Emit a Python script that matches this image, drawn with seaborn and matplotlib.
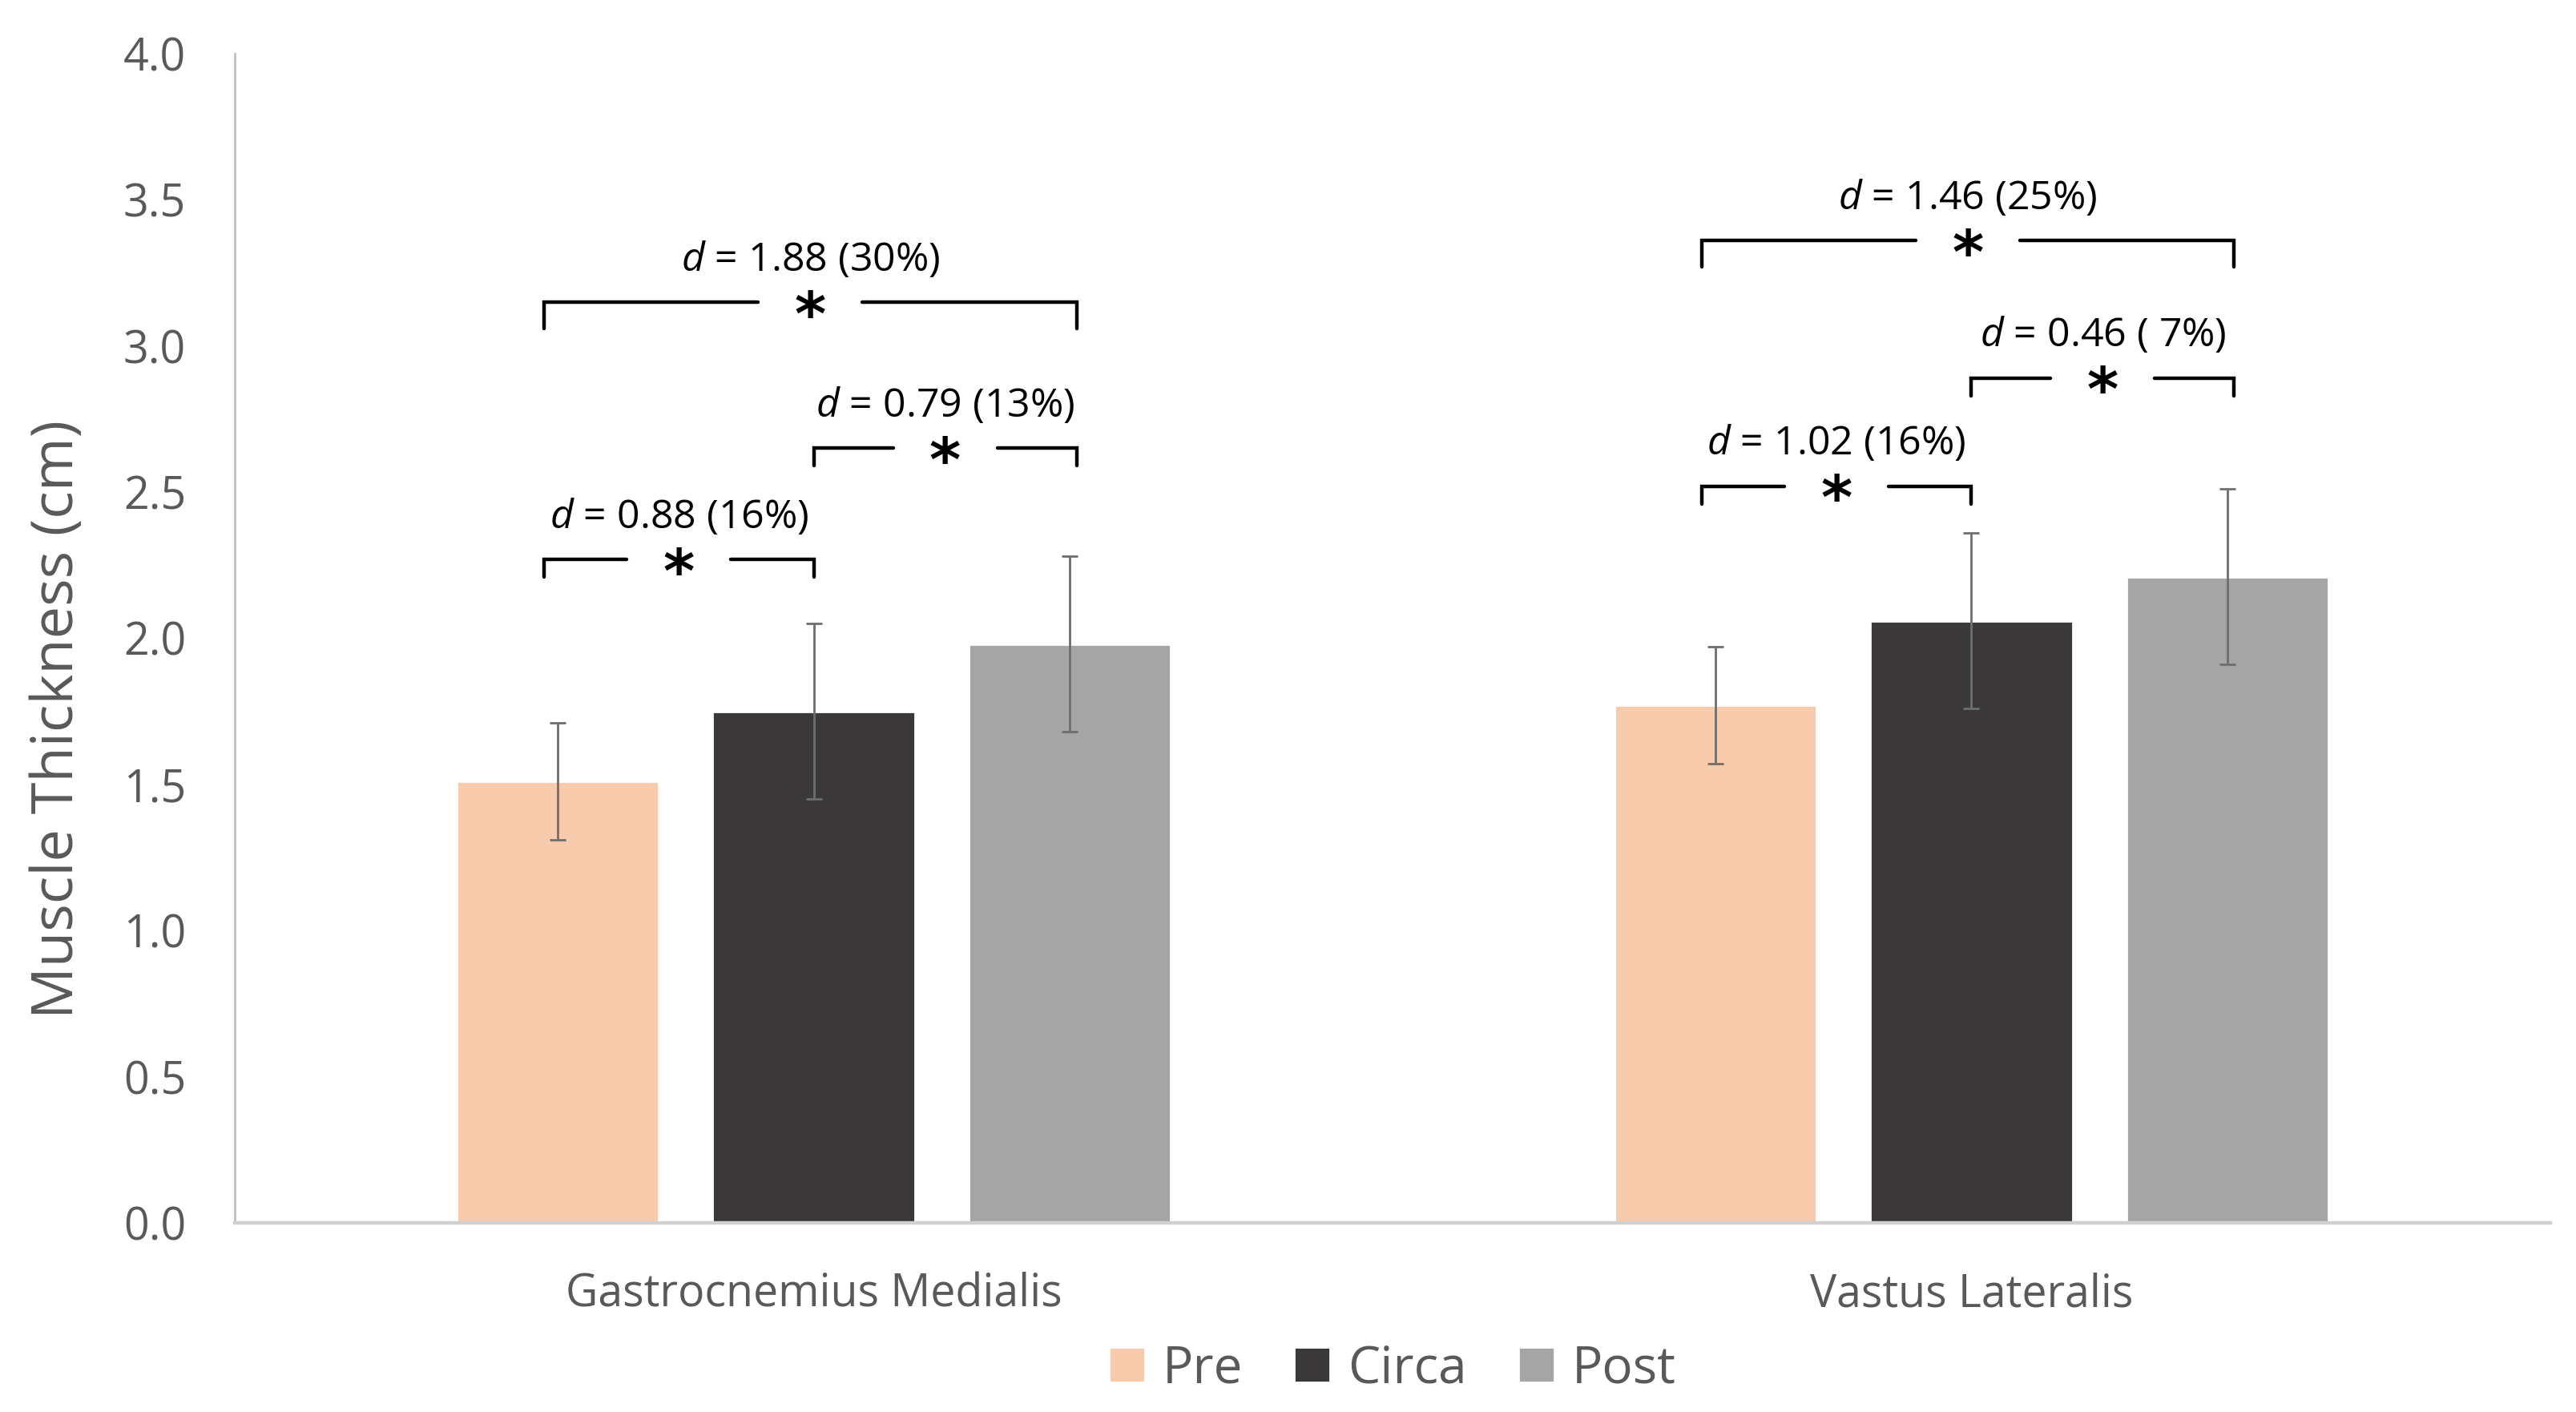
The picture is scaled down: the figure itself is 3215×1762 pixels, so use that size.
import matplotlib
matplotlib.use("Agg")
import matplotlib.pyplot as plt
import pandas as pd
import seaborn as sns

muscles = ["Gastrocnemius Medialis", "Vastus Lateralis"]
timepoints = ["Pre", "Circa", "Post"]
mean_gm = [1.51, 1.75, 1.98]
sd_gm = [0.20, 0.30, 0.30]
mean_vl = [1.77, 2.06, 2.21]
sd_vl = [0.20, 0.30, 0.30]

# pairwise comparisons (effect size d and % change)
cmp_muscle = ["Gastrocnemius Medialis"] * 3 + ["Vastus Lateralis"] * 3
cmp_a = ["Pre", "Circa", "Pre", "Pre", "Circa", "Pre"]
cmp_b = ["Circa", "Post", "Post", "Circa", "Post", "Post"]
cmp_y = [2.27, 2.65, 3.15, 2.52, 2.89, 3.36]
cmp_d = ["0.88", "0.79", "1.88", "1.02", "0.46", "1.46"]
cmp_pct = ["16%", "13%", "30%", "16%", " 7%", "25%"]

palette = {"Pre": "#F8CBAD", "Circa": "#3A3838", "Post": "#A5A5A5"}
# small horizontal nudge of the bracket ends
end_shift = {"Pre": -0.012, "Circa": 0.0, "Post": 0.006}

df = pd.DataFrame({
    "muscle": [muscles[0]] * 3 + [muscles[1]] * 3,
    "time": timepoints * 2,
    "mean": mean_gm + mean_vl,
    "sd": sd_gm + sd_vl,
})

sns.set_style("white")
plt.rcParams["font.family"] = ["Open Sans", "DejaVu Sans"]
plt.rcParams["mathtext.fontset"] = "custom"
plt.rcParams["mathtext.it"] = "Open Sans:italic"
plt.rcParams["mathtext.rm"] = "Open Sans"

fig = plt.figure(figsize=(16.075, 8.81), dpi=200)
ax = fig.add_axes([0.0912, 0.134, 0.8988, 0.828])

sns.barplot(data=df, x="muscle", y="mean", hue="time", order=muscles,
            hue_order=timepoints, palette=palette, width=0.663, gap=0.21,
            errorbar=None, saturation=1, ax=ax)

# bar centres from the drawn patches
centers = {}
for tp, cont in zip(timepoints, ax.containers):
    for m, p in zip(muscles, cont.patches):
        centers[(m, tp)] = p.get_x() + p.get_width() / 2

for _, row in df.iterrows():
    ax.errorbar(centers[(row["muscle"], row["time"])], row["mean"], yerr=row["sd"],
                fmt="none", ecolor="#6E6E6E", elinewidth=1.0, capsize=3.6,
                capthick=1.0, zorder=3)

gap = 0.045
for m, a, b, y, d, pct in zip(cmp_muscle, cmp_a, cmp_b, cmp_y, cmp_d, cmp_pct):
    x1 = centers[(m, a)] + end_shift[a]
    x2 = centers[(m, b)] + end_shift[b]
    leg = 0.09 if (a == "Pre" and b == "Post") else 0.06
    xm = (x1 + x2) / 2
    ax.plot([x1, x1, xm - gap], [y - leg, y, y], color="black", lw=1.6,
            solid_joinstyle="miter", zorder=4)
    ax.plot([xm + gap, x2, x2], [y, y, y - leg], color="black", lw=1.6,
            solid_joinstyle="miter", zorder=4)
    ax.text(xm, y - 0.055, "*", ha="center", va="center", fontsize=27,
            fontweight="bold", family="DejaVu Sans", color="black")
    ax.text(xm, y + 0.075, f"$d$ = {d} ({pct})", ha="center", va="bottom",
            fontsize=18, color="black")

ax.set_xlim(-0.5, 1.5)
ax.set_ylim(0, 4.0)
ax.set_yticks([i * 0.5 for i in range(9)])
ax.set_yticklabels([f"{i * 0.5:.1f}" for i in range(9)])
ax.set_xlabel("")
ax.set_ylabel("Muscle Thickness (cm)", fontsize=26, color="#595959")
ax.yaxis.set_label_coords(-0.064, 0.431)
ax.tick_params(axis="both", length=0, labelsize=20, labelcolor="#595959")
ax.tick_params(axis="y", pad=22)
ax.tick_params(axis="x", pad=22)

for s in ["top", "right"]:
    ax.spines[s].set_visible(False)
ax.spines["left"].set_color("#BFBFBF")
ax.spines["left"].set_linewidth(1.0)
ax.spines["bottom"].set_color("#D0D0D0")
ax.spines["bottom"].set_linewidth(1.6)

handles, labels = ax.get_legend_handles_labels()
ax.legend(handles, labels, loc="center", bbox_to_anchor=(0.5, -0.125), ncol=3,
          frameon=False, fontsize=23, handlelength=0.7, handleheight=0.7,
          handletextpad=0.35, columnspacing=1.0, labelcolor="#595959")

fig.savefig("out.png", dpi=200, facecolor="white")
